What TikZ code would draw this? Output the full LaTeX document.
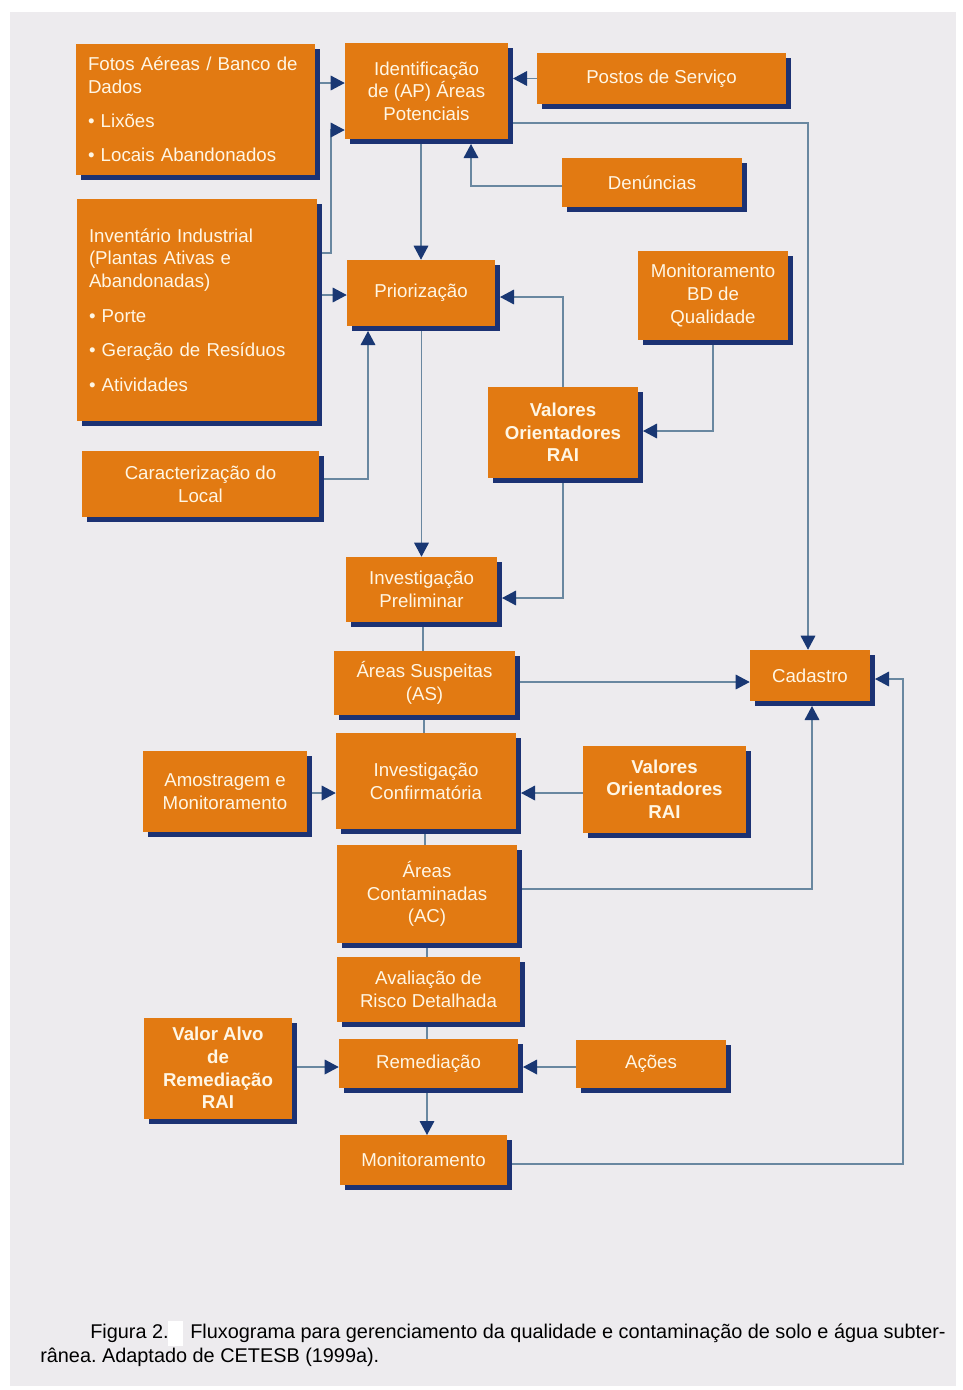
\documentclass[tikz,border=0pt]{standalone}
\usepackage{fontspec}
\setmainfont{Liberation Sans}
\usetikzlibrary{arrows.meta,shadows}
\frenchspacing
\definecolor{pagec}{RGB}{237,235,238}
\definecolor{boxc}{RGB}{226,122,18}
\definecolor{shadc}{RGB}{28,50,115}
\definecolor{linec}{RGB}{105,135,160}
\definecolor{tipc}{RGB}{25,55,115}
\definecolor{txtc}{RGB}{255,246,228}
\pgfdeclarelayer{bg}\pgfdeclarelayer{lines}\pgfsetlayers{bg,lines,main}
\tikzset{
 box/.style={fill=boxc, text=txtc, inner sep=0pt, align=center,
   font=\fontsize{14}{17}\selectfont,
   drop shadow={fill=shadc, opacity=1, shadow xshift=4pt, shadow yshift=-4pt}},
 bbox/.style={box, font=\fontsize{14}{17}\selectfont\bfseries},
 sz/.style 2 args={minimum width=#1*0.75pt, minimum height=#2*0.75pt},
 conn/.style={draw=linec, line width=0.9pt},
 arr/.style={conn, -{Triangle[length=10.5pt,width=11pt,fill=tipc,color=tipc]}},
 captxt/.style={anchor=base west, inner sep=0pt, text=black, font=\fontsize{14.9}{18}\selectfont}
}
\begin{document}
\begin{tikzpicture}[x=0.75pt,y=-0.75pt]
\useasboundingbox (0,0) rectangle (963,1390);
\begin{pgfonlayer}{bg}
\fill[white] (0,0) rectangle (963,1390);
\fill[pagec] (10,12) rectangle (956,1386);
\end{pgfonlayer}

% boxes
\node[box, sz={239}{131}, text width=215*0.75pt, align=left] (fotos) at (195.5,109.5)
  {Fotos Aéreas / Banco de\\Dados\\[8.5pt]\textbullet\ Lixões\\[8.5pt]\textbullet\ Locais Abandonados};
\node[box, sz={163}{96}] (ident) at (426.5,91) {Identificação\\de (AP) Áreas\\Potenciais};
\node[box, sz={249}{51}] (postos) at (661.5,78.5) {Postos de Serviço};
\node[box, sz={180}{49}] (denun) at (652,182.5) {Denúncias};
\node[box, sz={150}{89}] (monbd) at (713,295.5) {Monitoramento\\BD de\\Qualidade};
\node[box, sz={240}{222}, text width=216*0.75pt, align=left] (invent) at (197,310)
  {Inventário Industrial\\(Plantas Ativas e\\Abandonadas)\\[9pt]\textbullet\ Porte\\[9pt]\textbullet\ Geração de Resíduos\\[9pt]\textbullet\ Atividades};
\node[box, sz={237}{66}] (caract) at (200.5,484) {Caracterização do\\Local};
\node[box, sz={148}{66}] (prior) at (421,293) {Priorização};
\node[bbox, sz={150}{91}] (vo1) at (563,432.5) {Valores\\Orientadores\\RAI};
\node[box, sz={151}{65}] (invpre) at (421.5,589.5) {Investigação\\Preliminar};
\node[box, sz={181}{64}] (asusp) at (424.5,683) {Áreas Suspeitas\\(AS)};
\node[box, sz={120}{51}] (cadastro) at (810,675.5) {Cadastro};
\node[box, sz={164}{81}] (amostr) at (225,791.5) {Amostragem e\\Monitoramento};
\node[box, sz={180}{96}] (invconf) at (426,781) {Investigação\\Confirmatória};
\node[bbox, sz={163}{87}] (vo2) at (664.5,789) {Valores\\Orientadores\\RAI};
\node[box, sz={180}{98}] (acontam) at (427,894) {Áreas\\Contaminadas\\(AC)};
\node[box, sz={183}{65}] (avalia) at (428.5,989.5) {Avaliação de\\Risco Detalhada};
\node[bbox, sz={148}{101}] (valvo) at (218,1068) {Valor Alvo\\de\\Remediação\\RAI};
\node[box, sz={179}{49}] (remed) at (428.5,1063.5) {Remediação};
\node[box, sz={150}{48}] (acoes) at (651,1064) {Ações};
\node[box, sz={167}{50}] (monit) at (423.5,1160) {Monitoramento};

% connectors
\begin{pgfonlayer}{lines}
\draw[arr] (fotos.east |- 0,83) -- (ident.west |- 0,83);
\draw[arr] (invent.east |- 0,253) -- (331,253) -- (331,130) -- (ident.west |- 0,130);
\draw[arr] (invent.east |- 0,295) -- (prior.west |- 0,295);
\draw[arr] (caract.east |- 0,479) -- (368,479) -- (368,331);
\draw[arr] (prior.north |- ident.south) -- (prior.north);
\draw[arr] (postos.west) -- (513,78.5);
\draw[arr] (denun.west |- 0,186) -- (471,186) -- (471,144);
\draw[arr] (ident.east |- 0,123) -- (808,123) -- (808,0 |- cadastro.north);
\draw[arr] (monbd.south) -- (monbd.south |- 0,431) -- (643,431);
\draw[arr] (vo1.north) -- (vo1.north |- 0,297) -- (500,297);
\draw[arr] (vo1.south) -- (vo1.south |- 0,598) -- (502,598);
\draw[arr] (invpre.north |- prior.south) -- (invpre.north);
\draw[conn] (423,622) -- (423,651);
\draw[arr] (asusp.east |- 0,682) -- (cadastro.west |- 0,682);
\draw[conn] (424,715) -- (424,733);
\draw[arr] (amostr.east |- 0,793) -- (invconf.west |- 0,793);
\draw[arr] (vo2.west |- 0,793) -- (521,793);
\draw[conn] (425,829) -- (425,845);
\draw[arr] (acontam.east |- 0,889) -- (812,889) -- (812,706);
\draw[conn] (427,943) -- (427,957);
\draw[conn] (427,1022) -- (427,1039);
\draw[arr] (valvo.east |- 0,1067) -- (remed.west |- 0,1067);
\draw[arr] (acoes.west |- 0,1067) -- (523,1067);
\draw[arr] (427,1088) -- (427,1135);
\draw[arr] (monit.east |- 0,1164) -- (903,1164) -- (903,679) -- (875,679);
\end{pgfonlayer}

% caption
\node[captxt] (cap1) at (90,1338) {Figura 2.};
\fill[white] (168,1321) rectangle (183,1346);
\node[captxt] (cap2) at (190,1338) {Fluxograma para gerenciamento da qualidade e contaminação de solo e água subter-};
\node[captxt] (cap3) at (40,1362) {rânea. Adaptado de CETESB (1999a).};
\end{tikzpicture}
\end{document}
